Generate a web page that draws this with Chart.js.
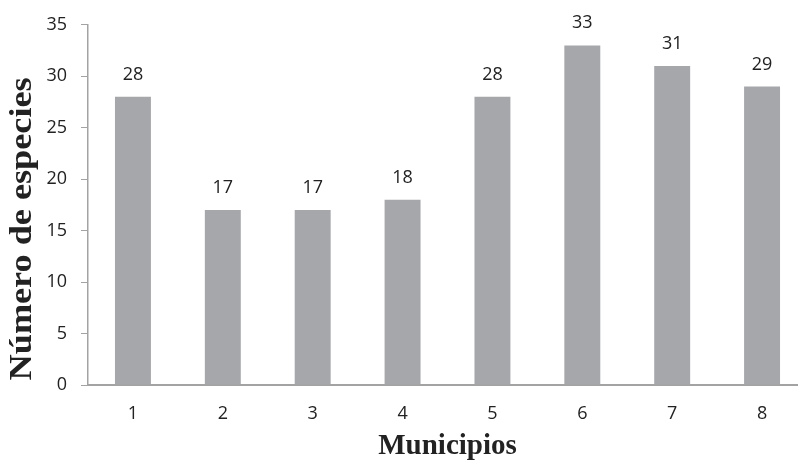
<!DOCTYPE html>
<html>
<head>
<meta charset="utf-8">
<script src="https://cdn.jsdelivr.net/npm/chart.js@4.4.1/dist/chart.umd.min.js"></script>
<style>
  html, body { margin: 0; padding: 0; background: #ffffff; overflow: hidden; }
  #wrap { width: 807px; height: 465px; position: relative; }
</style>
</head>
<body>
<div id="wrap"><canvas id="chart"></canvas></div>
<script>
// Species counts per municipality
const municipios = ['1', '2', '3', '4', '5', '6', '7', '8'];
const especies = [28, 17, 17, 18, 28, 33, 31, 29];
const yTicks = [0, 5, 10, 15, 20, 25, 30, 35];
const yTitle = 'Número de especies';

const axisColor = '#a3a3a3';
const barColor = '#a6a7aa';
const textColor = '#222222';
const tickFont = '"Open Sans", "Liberation Sans", sans-serif';
const titleFont = '"Liberation Serif", "Times New Roman", serif';

// Writes each bar's value above it
const valueLabels = {
  id: 'valueLabels',
  afterDatasetsDraw(chart) {
    const ctx = chart.ctx;
    const meta = chart.getDatasetMeta(0);
    ctx.save();
    ctx.font = '18px ' + tickFont;
    ctx.fillStyle = textColor;
    ctx.textAlign = 'center';
    ctx.textBaseline = 'alphabetic';
    meta.data.forEach((bar, i) => {
      ctx.fillText(String(chart.data.datasets[0].data[i]), bar.x, bar.y - 17);
    });
    ctx.restore();
  }
};

// Rotated, slightly elongated title for the value axis
const yAxisTitle = {
  id: 'yAxisTitle',
  afterDraw(chart) {
    const ctx = chart.ctx;
    const area = chart.chartArea;
    ctx.save();
    ctx.font = 'bold 32px ' + titleFont;
    ctx.fillStyle = textColor;
    ctx.textAlign = 'center';
    ctx.textBaseline = 'middle';
    const w = ctx.measureText(yTitle).width;
    const stretch = 303 / w;
    ctx.translate(23, (area.top + area.bottom) / 2 + 24);
    ctx.rotate(-Math.PI / 2);
    ctx.scale(stretch, 1);
    ctx.fillText(yTitle, 0, 0);
    ctx.restore();
  }
};

new Chart(document.getElementById('chart'), {
  type: 'bar',
  data: {
    labels: municipios,
    datasets: [{
      data: especies,
      backgroundColor: barColor,
      borderWidth: 0,
      categoryPercentage: 1,
      barPercentage: 0.40
    }]
  },
  options: {
    responsive: true,
    maintainAspectRatio: false,
    animation: false,
    events: [],
    layout: { padding: { top: 23, right: 0, left: 0, bottom: 0 } },
    plugins: {
      legend: { display: false },
      tooltip: { enabled: false }
    },
    scales: {
      x: {
        grid: { display: true, drawOnChartArea: false, drawTicks: false, color: 'transparent' },
        border: { display: true, color: axisColor, width: 2 },
        ticks: {
          color: textColor,
          padding: 18,
          font: { family: tickFont, size: 18 }
        },
        title: {
          display: true,
          text: 'Municipios',
          color: textColor,
          font: { family: titleFont, size: 29, weight: 'bold' },
          padding: { top: 0, bottom: 1 }
        },
        afterFit(scale) { scale.height = 80; }
      },
      y: {
        min: 0,
        max: 35,
        afterBuildTicks(scale) { scale.ticks = yTicks.map(v => ({ value: v })); },
        grid: { display: true, drawOnChartArea: false, drawTicks: true, tickLength: 7, color: axisColor },
        border: { display: true, color: axisColor, width: 1.5 },
        ticks: {
          color: textColor,
          padding: 14,
          font: { family: tickFont, size: 18 }
        },
        title: { display: false },
        afterFit(scale) { scale.width = 88; }
      }
    }
  },
  plugins: [valueLabels, yAxisTitle]
});
</script>
</body>
</html>
